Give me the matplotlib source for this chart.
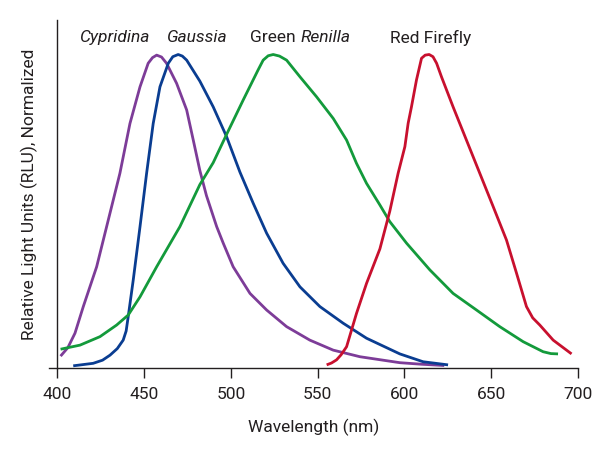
import numpy as np
import matplotlib.pyplot as plt

plt.rcParams['font.family'] = ['Roboto', 'DejaVu Sans']

# wavelength (nm) / normalized RLU
cyp_nm = [401.8, 406.0, 410.1, 414.9, 422.6, 429.3, 436.0, 441.8, 447.6, 452.3,
          454.8, 457.2, 460.0, 462.9, 468.7, 474.5, 478.3, 482.1, 485.9, 491.8,
          495.6, 501.3, 511.0, 520.6, 532.1, 545.5, 559.0, 574.4, 597.4, 610.0,
          623.0]
cyp_y = [0.038, 0.065, 0.111, 0.196, 0.323, 0.472, 0.621, 0.780, 0.897, 0.972,
         0.990, 0.998, 0.992, 0.972, 0.908, 0.823, 0.727, 0.630, 0.550, 0.451,
         0.398, 0.323, 0.238, 0.185, 0.132, 0.089, 0.057, 0.036, 0.017, 0.012,
         0.008]

gau_nm = [409.1, 420.6, 426.0, 430.3, 434.5, 437.9, 439.6, 440.8, 443.7, 447.6,
          451.4, 455.2, 459.1, 463.9, 466.5, 469.6, 472.0, 474.5, 482.1, 489.8,
          497.5, 505.2, 512.9, 520.6, 530.1, 539.8, 551.3, 564.7, 578.2, 597.4,
          610.8, 625.2]
gau_y = [0.007, 0.015, 0.025, 0.041, 0.062, 0.089, 0.118, 0.164, 0.281, 0.451,
         0.621, 0.780, 0.897, 0.972, 0.993, 1.0, 0.995, 0.982, 0.915, 0.833,
         0.738, 0.625, 0.525, 0.430, 0.334, 0.259, 0.196, 0.143, 0.095, 0.045,
         0.020, 0.010]

ren_nm = [401.8, 413.0, 424.5, 434.1, 440.8, 447.6, 457.2, 470.6, 482.1, 489.8,
          497.5, 507.1, 515.7, 518.6, 521.5, 524.4, 528.0, 532.1, 539.8, 549.4,
          559.0, 566.7, 572.4, 578.2, 585.9, 591.6, 601.3, 614.7, 628.1, 641.6,
          655.0, 668.5, 680.0, 684.5, 688.6]
ren_y = [0.060, 0.073, 0.100, 0.137, 0.169, 0.227, 0.323, 0.451, 0.585, 0.655,
         0.745, 0.855, 0.951, 0.982, 0.996, 1.0, 0.995, 0.982, 0.929, 0.865,
         0.796, 0.727, 0.653, 0.589, 0.520, 0.467, 0.398, 0.313, 0.238, 0.185,
         0.132, 0.084, 0.052, 0.046, 0.045]

ff_nm = [555.2, 558.0, 560.9, 563.5, 566.7, 572.4, 578.2, 585.9, 591.6, 596.4,
         600.3, 602.2, 604.1, 607.0, 609.9, 612.0, 614.3, 616.5, 618.6, 621.4,
         628.1, 635.8, 643.5, 651.2, 658.9, 664.7, 670.4, 674.0, 678.1, 685.8,
         696.4]
ff_y = [0.010, 0.016, 0.026, 0.042, 0.068, 0.174, 0.270, 0.380, 0.500, 0.621,
        0.706, 0.781, 0.833, 0.919, 0.988, 0.998, 1.0, 0.993, 0.972, 0.929,
        0.833, 0.727, 0.621, 0.515, 0.408, 0.302, 0.196, 0.160, 0.137, 0.089,
        0.045]

xticks = [400, 450, 500, 550, 600, 650, 700]

txt = '#231f20'
fs = 12.5

fig = plt.figure(figsize=(6, 4.53), dpi=100)
ax = fig.add_axes([0.0813, 0.1876, 0.8817, 0.7682])

kw = dict(lw=2.0, solid_capstyle='butt', solid_joinstyle='round')
ax.plot(cyp_nm, cyp_y, color='#7d3c98', **kw)
ax.plot(gau_nm, gau_y, color='#0a3d91', **kw)
ax.plot(ren_nm, ren_y, color='#139a3b', **kw)
ax.plot(ff_nm, ff_y, color='#c8102e', **kw)

ax.set_xlim(395, 700)
ax.set_ylim(0, 1.11)

# series labels
ly = 1.053
ax.text(433, ly, 'Cypridina', style='italic', ha='center', va='center', fontsize=fs, color=txt)
ax.text(480, ly, 'Gaussia', style='italic', ha='center', va='center', fontsize=fs, color=txt)
ax.text(537.5, ly, 'Green', ha='right', va='center', fontsize=fs, color=txt)
ax.text(540, ly, 'Renilla', style='italic', ha='left', va='center', fontsize=fs, color=txt)
ax.text(615, ly, 'Red Firefly', ha='center', va='center', fontsize=fs, color=txt)

for s in ['top', 'right']:
    ax.spines[s].set_visible(False)
ax.spines['left'].set_position(('data', 400))
ax.spines['left'].set_color(txt)
ax.spines['bottom'].set_color(txt)
ax.spines['left'].set_linewidth(1.0)
ax.spines['bottom'].set_linewidth(1.0)

ax.set_xticks(xticks)
ax.set_yticks([])
ax.tick_params(axis='x', direction='out', length=7, width=1.0, colors=txt,
               labelsize=fs, pad=7)

ax.set_xlabel('Wavelength (nm)', fontsize=fs, color=txt, labelpad=12)
ax.set_ylabel('Relative Light Units (RLU), Normalized', fontsize=fs, color=txt, labelpad=14)

fig.savefig('out.png', dpi=100)
